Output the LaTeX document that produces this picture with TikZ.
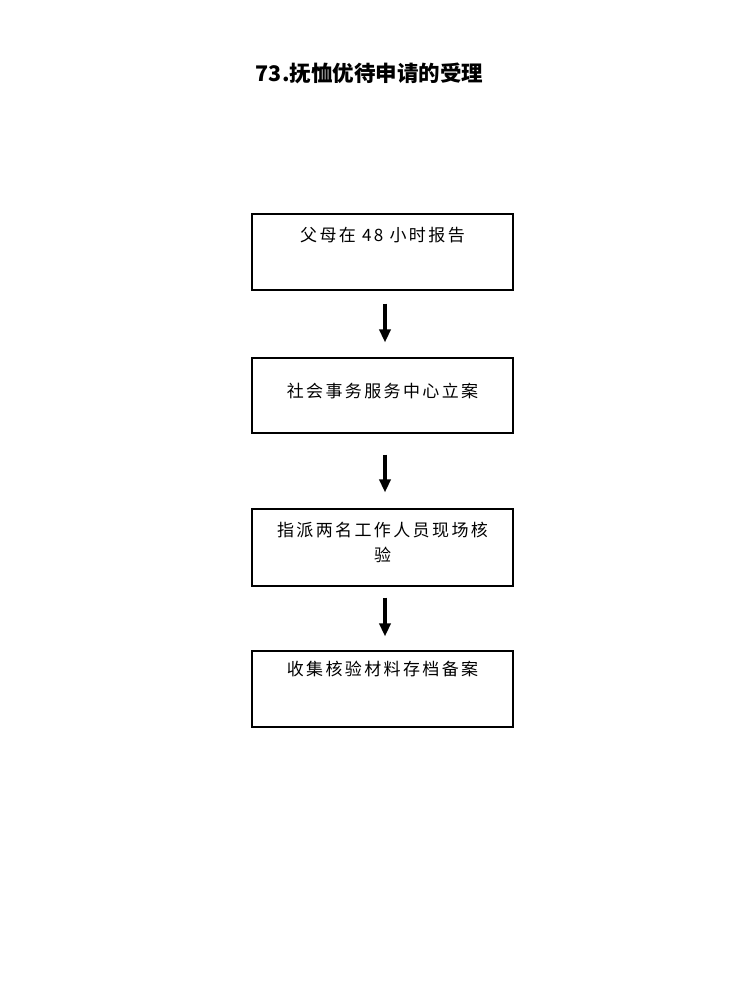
\documentclass[tikz,border=0pt]{standalone}
\usepackage{fontspec}
\newfontfamily\cjk[LetterSpace=14]{Noto Sans CJK SC}
\newfontfamily\cjktitle{Noto Sans CJK SC}
\usetikzlibrary{arrows.meta,positioning}
\begin{document}
\begin{tikzpicture}[x=1pt,y=-1pt,
  box/.style={draw=black,line width=1.1pt,minimum width=261pt,inner sep=0pt},
  step1/.style={font=\cjk\fontsize{17pt}{25pt}\selectfont,align=center,inner sep=0pt},
  flow/.style={line width=3.5pt,-{Triangle[width=11pt,length=13pt]}}]
\useasboundingbox (0,0) rectangle (730,987);
\node[font=\cjktitle\bfseries\fontsize{21.5pt}{24pt}\selectfont] (title) at (369.5,73) {73.抚恤优待申请的受理};
\node[box,minimum height=76pt] (b1) at (382.5,252) {};
\node[box,minimum height=75pt] (b2) at (382.5,395.5) {};
\node[box,minimum height=77pt] (b3) at (382.5,547.5) {};
\node[box,minimum height=76pt] (b4) at (382.5,689) {};
\node[step1] (t1) at ([yshift=-22pt]b1.north) {父母在 48 小时报告};
\node[step1] (t2) at ([yshift=-34pt]b2.north) {社会事务服务中心立案};
\node[step1] (t3) at ([yshift=-33.5pt]b3.north) {指派两名工作人员现场核\\验};
\node[step1] (t4) at ([yshift=-19pt]b4.north) {收集核验材料存档备案};
\draw[flow] ([xshift=2.5pt,yshift=-13pt]b1.south) -- ([xshift=2.5pt,yshift=15pt]b2.north);
\draw[flow] ([xshift=2.5pt,yshift=-21pt]b2.south) -- ([xshift=2.5pt,yshift=16pt]b3.north);
\draw[flow] ([xshift=2.5pt,yshift=-11pt]b3.south) -- ([xshift=2.5pt,yshift=14pt]b4.north);
\end{tikzpicture}
\end{document}
